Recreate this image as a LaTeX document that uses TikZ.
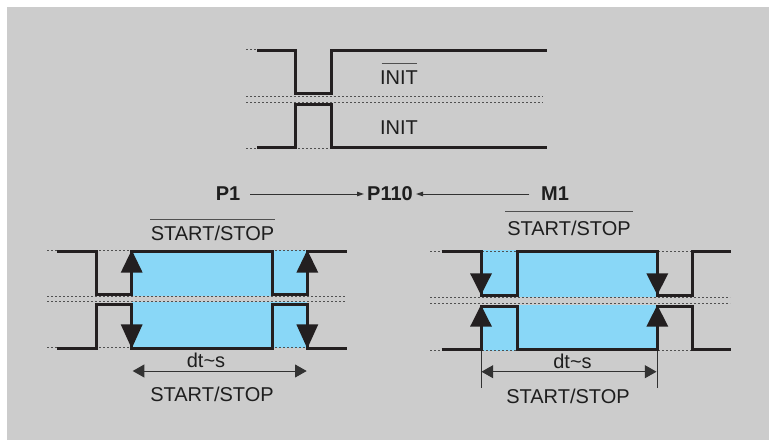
\documentclass[tikz,border=0pt]{standalone}
\usepackage{fontspec}
\setmainfont{Liberation Sans}
\usetikzlibrary{arrows.meta}
\definecolor{bgc}{RGB}{204,204,204}
\definecolor{sigc}{RGB}{35,31,32}
\definecolor{txtc}{RGB}{30,30,30}
\definecolor{dotc}{RGB}{80,80,80}
\definecolor{thinc}{RGB}{50,50,50}
\definecolor{bluec}{RGB}{137,215,247}
\tikzset{
  sig/.style={line width=3pt, draw=sigc, line join=miter},
  dotl/.style={draw=dotc, line width=0.8pt, dash pattern=on 2pt off 2pt},
  bluefill/.style={fill=bluec, draw=none},
  tri/.style={fill=sigc, draw=none},
  lbl/.style={inner sep=0pt, anchor=base, text=txtc, font=\fontsize{20}{24}\selectfont},
  blbl/.style={lbl, font=\fontsize{20}{24}\selectfont\bfseries},
  ovl/.style={draw=dotc, line width=1pt},
  thinl/.style={draw=thinc, line width=1pt},
  dimarrow/.style={thinl, {Triangle[length=11.7pt,width=13pt]}-{Triangle[length=11.7pt,width=13pt]}},
  smallarrow/.style={thinl, -{Triangle[length=7pt,width=4.5pt]}},
}
\begin{document}
\begin{tikzpicture}[x=1pt,y=-1pt]
\useasboundingbox (0,0) rectangle (770,441);
\fill[white] (0,0) rectangle (770,441);
\fill[bgc] (7,7) rectangle (769,440);

% ---------- top diagram ----------
\draw[dotl] (246,49) -- (295,49);
\draw[dotl] (331,49) -- (543,49);
\draw[dotl] (246,96.7) -- (543,96.7);
\draw[dotl] (246,102) -- (543,102);
\draw[dotl] (246,148.3) -- (543,148.3);
\draw[sig] (257,51) -- (295,51) -- (295,94) -- (331,94) -- (331,51) -- (546.7,51);
\draw[sig] (257,147.7) -- (295,147.7) -- (295,104.5) -- (331,104.5) -- (331,147.7) -- (546.7,147.7);
\node[lbl] (initbar) at (399,85) {INIT};
\draw[ovl] (381.5,63.3) -- (416.7,63.3);
\node[lbl] (init) at (399,134.3) {INIT};

% ---------- P1 / P110 / M1 ----------
\node[blbl] (p1) at (228,200.7) {P1};
\node[blbl] (p110) at (390,200.7) {P110};
\node[blbl] (m1) at (555,200.7) {M1};
\draw[smallarrow, shorten <=10pt, shorten >=3pt] ([yshift=6.7pt]p1.base east) -- ([yshift=6.7pt]p110.base west);
\draw[smallarrow, shorten <=11.5pt, shorten >=3pt] ([yshift=6.7pt]m1.base west) -- ([yshift=6.7pt]p110.base east);

% ---------- left diagram ----------
\fill[bluefill] (131.7,250) rectangle (307.3,296);
\fill[bluefill] (131.7,302) rectangle (307.3,348);
\draw[dotl] (47.3,250) -- (346.7,250);
\draw[dotl] (47.3,296.7) -- (346.7,296.7);
\draw[dotl] (47.3,301.2) -- (346.7,301.2);
\draw[dotl] (47.3,347.5) -- (346.7,347.5);
\draw[sig] (56.7,251.2) -- (96,251.2) -- (96,294.5) -- (131.7,294.5) -- (131.7,251.2) -- (272.3,251.2) -- (272.3,294.5) -- (307.3,294.5) -- (307.3,251.2) -- (346.7,251.2);
\draw[sig] (56.7,348) -- (96,348) -- (96,304.3) -- (131.7,304.3) -- (131.7,348) -- (272.3,348) -- (272.3,304.3) -- (307.3,304.3) -- (307.3,348) -- (346.7,348);
\foreach \xx in {131.7,307.3}{
  \fill[tri] (\xx,250) -- (\xx-11,272.7) -- (\xx+11,272.7) -- cycle;
  \fill[tri] (\xx,348.5) -- (\xx-11,324.3) -- (\xx+11,324.3) -- cycle;
}
\node[lbl] (lss) at (212.5,240.7) {START/STOP};
\draw[ovl] (150,219) -- (275,219);
\coordinate (la) at (132.7,371);
\coordinate (lb) at (306.7,371);
\draw[dimarrow] (la) -- (lb);
\node[lbl] (ldt) at (206,367.7) {dt\char"007Es};
\node[lbl] (lssb) at (212,401.7) {START/STOP};

% ---------- right diagram ----------
\fill[bluefill] (481,250) rectangle (657.3,296.5);
\fill[bluefill] (481,305) rectangle (657.3,350.5);
\draw[dotl] (430,251) -- (730,251);
\draw[dotl] (430,297.7) -- (730,297.7);
\draw[dotl] (430,303.5) -- (730,303.5);
\draw[dotl] (430,350.5) -- (730,350.5);
\draw[sig] (441.7,251.7) -- (481,251.7) -- (481,295) -- (517,295) -- (517,251.7) -- (657.3,251.7) -- (657.3,295) -- (692.7,295) -- (692.7,251.7) -- (730.7,251.7);
\draw[sig] (441.7,349) -- (481,349) -- (481,306.5) -- (517,306.5) -- (517,349) -- (657.3,349) -- (657.3,306.5) -- (692.7,306.5) -- (692.7,349) -- (730.7,349);
\foreach \xx in {481,657.3}{
  \fill[tri] (\xx,295) -- (\xx-11,273.3) -- (\xx+11,273.3) -- cycle;
  \fill[tri] (\xx,305) -- (\xx-11,326.7) -- (\xx+11,326.7) -- cycle;
}
\node[lbl] (rss) at (569,235) {START/STOP};
\draw[ovl] (505,211.7) -- (633.3,211.7);
\coordinate (re1) at (481,351);
\coordinate (re1b) at (481,388.3);
\coordinate (re2) at (657,351);
\coordinate (re2b) at (657,388.3);
\draw[thinl] (re1) -- (re1b);
\draw[thinl] (re2) -- (re2b);
\coordinate (ra) at (481.5,371.7);
\coordinate (rb) at (656.5,371.7);
\draw[dimarrow] (ra) -- (rb);
\node[lbl] (rdt) at (572.5,368) {dt\char"007Es};
\node[lbl] (rssb) at (568,403.3) {START/STOP};
\end{tikzpicture}
\end{document}
